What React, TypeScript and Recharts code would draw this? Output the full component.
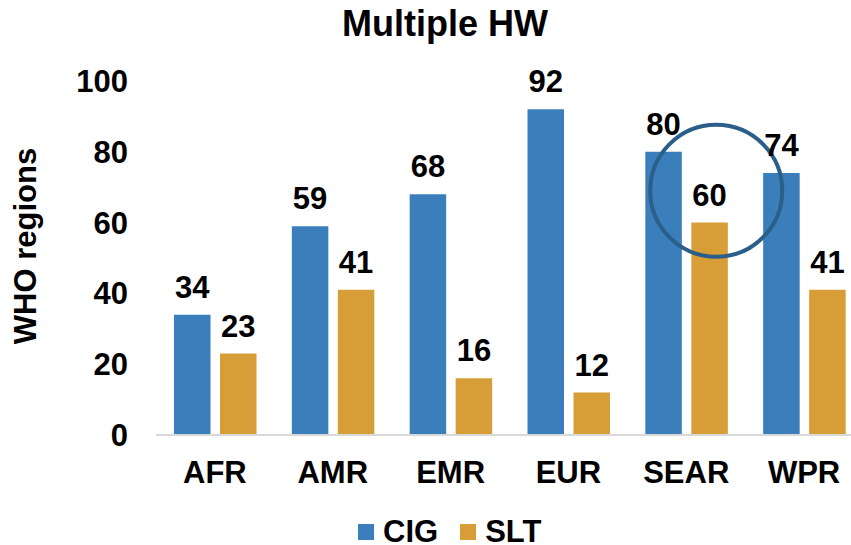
import { BarChart, Bar, XAxis, YAxis, LabelList, ReferenceDot, Label } from "recharts"

const REGIONS = ["AFR", "AMR", "EMR", "EUR", "SEAR", "WPR"]
const CIG = [34, 59, 68, 92, 80, 74]
const SLT = [23, 41, 16, 12, 60, 41]
const Y_TICKS = [0, 20, 40, 60, 80, 100]

const BLUE = "#3A7FBB"
const GOLD = "#D79E38"
const FONT = "'Liberation Sans', Arial, sans-serif"

const data = REGIONS.map((region, i) => ({ region, CIG: CIG[i], SLT: SLT[i] }))

const tickStyle = { fill: "#000", fontSize: 31, fontWeight: 700, fontFamily: FONT }

// highlight ring around SEAR, shifted a bit right of the group center
const Ring = (props: any) => (
  <circle cx={props.cx + 30} cy={props.cy} r={66} fill="none" stroke="#2B5E89" strokeWidth={4} />
)

export default function App() {
  return (
    <div
      style={{
        position: "absolute",
        left: 0,
        top: 0,
        width: 851,
        height: 545,
        overflow: "hidden",
        background: "#fff",
        fontFamily: FONT,
      }}
    >
      <div
        style={{
          position: "absolute",
          top: 4,
          left: 0,
          width: 890,
          textAlign: "center",
          fontSize: 36,
          fontWeight: 700,
          lineHeight: "40px",
        }}
      >
        Multiple HW
      </div>
      <BarChart
        width={863}
        height={545}
        data={data}
        margin={{ top: 81, right: 0, bottom: 0, left: 0 }}
        barSize={36.5}
        barGap={9.5}
      >
        <XAxis
          dataKey="region"
          height={110}
          tickLine={false}
          tickSize={0}
          tickMargin={26}
          axisLine={{ stroke: "#D9D9D9", strokeWidth: 2 }}
          tick={tickStyle}
        />
        <YAxis
          width={156}
          domain={[0, 100]}
          ticks={Y_TICKS}
          axisLine={false}
          tickLine={false}
          tickSize={0}
          tickMargin={28}
          tick={tickStyle}
        >
          <Label
            content={() => (
              <text
                x={25}
                y={246}
                transform="rotate(-90 25 246)"
                textAnchor="middle"
                dominantBaseline="central"
                style={tickStyle}
              >
                WHO regions
              </text>
            )}
          />
        </YAxis>
        <Bar dataKey="CIG" fill={BLUE} isAnimationActive={false}>
          <LabelList dataKey="CIG" position="top" offset={17} style={tickStyle} />
        </Bar>
        <Bar dataKey="SLT" fill={GOLD} isAnimationActive={false}>
          <LabelList dataKey="SLT" position="top" offset={17} style={tickStyle} />
        </Bar>
        <ReferenceDot x="SEAR" y={69} r={66} shape={Ring} />
      </BarChart>
      <div
        style={{
          position: "absolute",
          top: 514,
          left: 358,
          display: "flex",
          alignItems: "center",
          fontSize: 31,
          fontWeight: 700,
          lineHeight: "36px",
        }}
      >
        <span style={{ width: 16, height: 16, background: BLUE, display: "inline-block", marginRight: 9 }} />
        <span style={{ marginRight: 22 }}>CIG</span>
        <span style={{ width: 16, height: 16, background: GOLD, display: "inline-block", marginRight: 9 }} />
        <span>SLT</span>
      </div>
    </div>
  )
}
